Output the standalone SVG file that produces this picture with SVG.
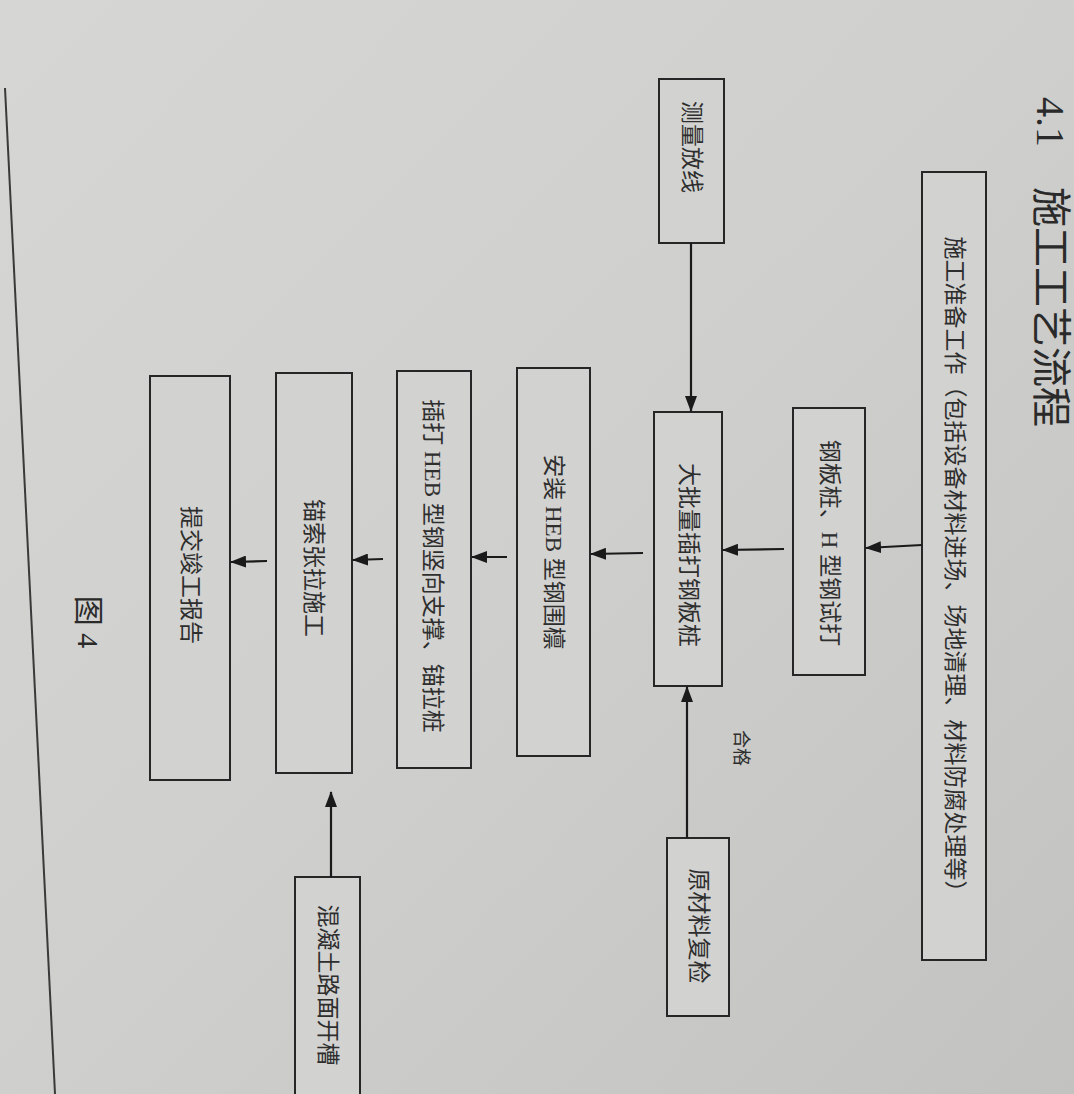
<svg xmlns="http://www.w3.org/2000/svg" width="1074" height="1094" viewBox="0 0 1074 1094">
<defs>
<linearGradient id="bg" x1="0" y1="0" x2="1" y2="1">
<stop offset="0" stop-color="#d6d6d4"/>
<stop offset="0.5" stop-color="#cfcfcd"/>
<stop offset="1" stop-color="#c2c2c0"/>
</linearGradient>
<marker id="ah" viewBox="0 0 16 12" refX="15" refY="6" markerWidth="16" markerHeight="12" markerUnits="userSpaceOnUse" orient="auto">
<path d="M0,0 L16,6 L0,12 z" fill="#1a1a1a"/>
</marker>
<style>
.box{fill:#d2d2d0;stroke:#262626;stroke-width:2}
.t{font-family:"Liberation Serif","Noto Sans CJK SC",serif;font-size:23px;fill:#2e2e2e;text-anchor:middle;dominant-baseline:central}
.c{stroke:#1a1a1a;stroke-width:2.2;fill:none;marker-end:url(#ah)}
</style>
</defs>
<rect width="1074" height="1094" fill="url(#bg)"/>
<line x1="5" y1="88" x2="55" y2="1094" stroke="#3a3a3a" stroke-width="2"/>
<text transform="translate(1050,262) rotate(90)" class="t" style="font-size:40px;fill:#2a2a2a">4.1　施工工艺流程</text>

<g id="n1"><rect class="box" x="922" y="172" width="64" height="788"/>
<text class="t" transform="translate(954,570) rotate(90)">施工准备工作（包括设备材料进场、场地清理、材料防腐处理等）</text></g>
<g id="n2"><rect class="box" x="659" y="79" width="65" height="164"/>
<text class="t" transform="translate(691,147) rotate(90)">测量放线</text></g>
<g id="n3"><rect class="box" x="793" y="408" width="72" height="267"/>
<text class="t" transform="translate(829,543) rotate(90)">钢板桩、H 型钢试打</text></g>
<g id="n4"><rect class="box" x="654" y="412" width="68" height="274"/>
<text class="t" transform="translate(688,555) rotate(90)">大批量插打钢板桩</text></g>
<g id="n5"><rect class="box" x="667" y="838" width="62" height="178"/>
<text class="t" transform="translate(698,926) rotate(90)">原材料复检</text></g>
<g id="n6"><rect class="box" x="517" y="368" width="73" height="388"/>
<text class="t" transform="translate(553,552) rotate(90)">安装 HEB 型钢围檩</text></g>
<g id="n7"><rect class="box" x="397" y="371" width="74" height="397"/>
<text class="t" transform="translate(432,566) rotate(90)">插打 HEB 型钢竖向支撑、锚拉桩</text></g>
<g id="n8"><rect class="box" x="276" y="373" width="76" height="400"/>
<text class="t" transform="translate(313,568) rotate(90)">锚索张拉施工</text></g>
<g id="n9"><rect class="box" x="150" y="376" width="80" height="404"/>
<text class="t" transform="translate(190,575) rotate(90)">提交竣工报告</text></g>
<g id="n10"><rect class="box" x="295" y="877" width="65" height="230"/>
<text class="t" transform="translate(327,985) rotate(90)">混凝土路面开槽</text></g>

<g id="connectors">
<line class="c" x1="922" y1="545" x2="866" y2="548"/>
<line class="c" x1="784" y1="549" x2="723" y2="550"/>
<line class="c" x1="691" y1="243" x2="691" y2="411"/>
<line class="c" x1="687" y1="838" x2="687" y2="687"/>
<line class="c" x1="643" y1="553" x2="591" y2="554"/>
<line class="c" x1="507" y1="557" x2="472" y2="557"/>
<line class="c" x1="383" y1="559" x2="353" y2="560"/>
<line class="c" x1="267" y1="561" x2="231" y2="562"/>
<line class="c" x1="331" y1="877" x2="331" y2="792"/>
</g>
<text class="t" transform="translate(741,748) rotate(90)" style="font-size:18px">合格</text>
<text class="t" transform="translate(88,622) rotate(90)" style="font-size:30px;fill:#2a2a2a">图 4</text>
</svg>
